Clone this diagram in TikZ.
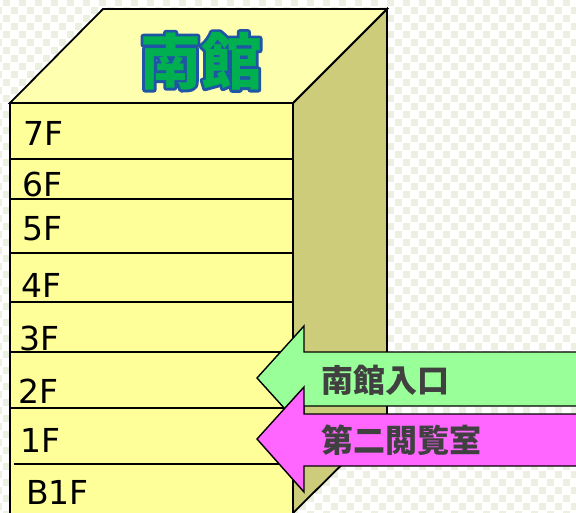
\documentclass[tikz,border=0pt]{standalone}
\usepackage{fontspec}
\usetikzlibrary{calc}
\setmainfont{DejaVu Sans}
\newfontfamily\cjk{Noto Sans CJK JP}
\definecolor{bgcell}{HTML}{ECF0E0}
\definecolor{frontc}{HTML}{FFFF99}
\definecolor{topc}{HTML}{FFFFB0}
\definecolor{sidec}{HTML}{CCCC7A}
\definecolor{titlefill}{HTML}{00B050}
\definecolor{titleline}{HTML}{1F55A5}
\definecolor{greenarrow}{HTML}{99FF99}
\definecolor{pinkarrow}{HTML}{FF66FF}
\definecolor{arrowtext}{HTML}{404040}
\tikzset{
  facebox/.style={draw=black, line width=1.8pt, line join=miter},
  floorline/.style={draw=black, line width=1.3pt},
  floorlabel/.style={inner sep=0pt, anchor=base west, font=\fontsize{33}{33}\selectfont},
  titletext/.style={inner sep=0pt, font=\cjk\bfseries\fontsize{61}{61}\selectfont},
  arrowshape/.style={draw=black, line width=1.4pt, line join=miter},
  arrowlabel/.style={inner sep=0pt, text=arrowtext, font=\cjk\bfseries\fontsize{32}{32}\selectfont}
}
\begin{document}
\begin{tikzpicture}[x=1pt,y=-1pt]
\useasboundingbox (0,0) rectangle (576,513);
\fill[white] (0,0) rectangle (576,513);
% checker background
\foreach \j in {0,...,64}{
  \pgfmathsetmacro\off{mod(\j,2)*8+2.7}
  \foreach \i in {-1,...,36}{
    \fill[bgcell] (\i*16+\off,\j*8-1) rectangle ++(7.2,7.4);
  }
}
% box corners
\coordinate (ftl) at (10,103);
\coordinate (ftr) at (293,103);
\coordinate (fbl) at (10,513);
\coordinate (fbr) at (293,513);
\coordinate (btl) at (103,9);
\coordinate (btr) at (387,9);
\coordinate (bbr) at (387,420);
% faces
\filldraw[facebox, fill=sidec] (ftr) -- (btr) -- (bbr) -- (fbr) -- cycle;
\filldraw[facebox, fill=topc] (ftl) -- (btl) -- (btr) -- (ftr) -- cycle;
\filldraw[facebox, fill=frontc] (fbl) -- (ftl) -- (ftr) -- (fbr);
% floor separators
\foreach \y/\xs in {159/10,199/10,253/10,302/10,352/10,408/10,464/14}{
  \draw[floorline] (\xs,\y) -- (293,\y);
}
% floor labels
\node[floorlabel] (f7) at (23,146) {7F};
\node[floorlabel] (f6) at (22,197) {6F};
\node[floorlabel] (f5) at (22,241) {5F};
\node[floorlabel] (f4) at (21,298) {4F};
\node[floorlabel] (f3) at (19,350) {3F};
\node[floorlabel] (f2) at (18,403) {2F};
\node[floorlabel] (f1) at (20,452) {1F};
\node[floorlabel] (fb1) at (26,504) {B1F};
% title: stroked outline under a filled copy
\node[titletext, text=titleline] (tline) at (201,61)
  {\special{pdf:literal direct 1 Tr 5.5 w 1 j 1 J}南館\special{pdf:literal direct 0 Tr}};
\node[titletext, text=titlefill] (title) at (201,61) {南館};
% arrows
\filldraw[arrowshape, fill=greenarrow] (257,378) -- (304,326) -- (304,352) -- (582,352) -- (582,406) -- (304,406) -- (304,430) -- cycle;
\node[arrowlabel] (entrance) at (385,380) {南館入口};
\filldraw[arrowshape, fill=pinkarrow] (257,439) -- (304,387) -- (304,414) -- (582,414) -- (582,466) -- (304,466) -- (304,492) -- cycle;
\node[arrowlabel] (reading) at (401,440) {第二閲覧室};
\end{tikzpicture}
\end{document}
